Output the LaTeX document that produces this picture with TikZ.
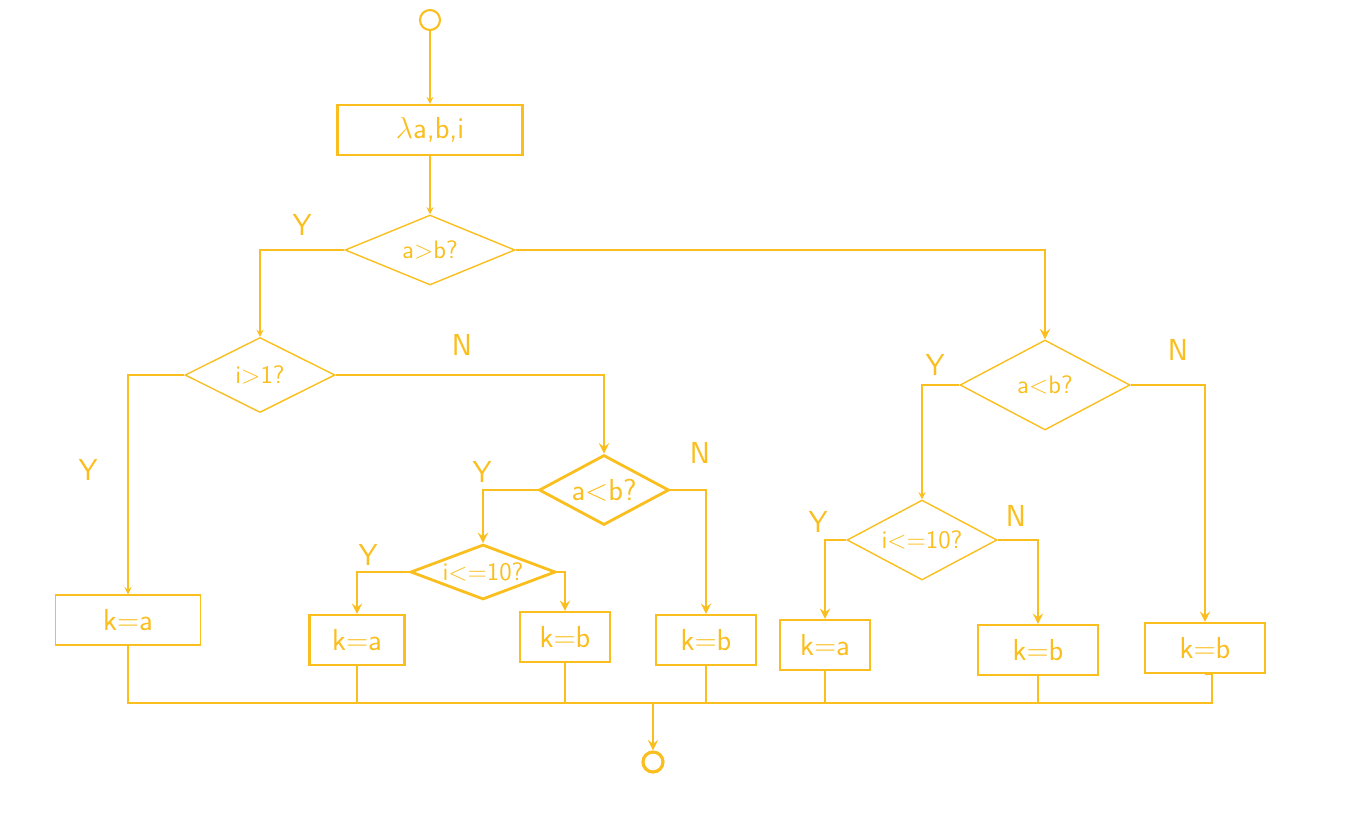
\documentclass[tikz,border=0pt]{standalone}
\usepackage{tikz}
\usetikzlibrary{shapes.geometric, positioning}
\definecolor{marker}{RGB}{250,190,30}

\begin{document}
\begin{tikzpicture}[x=0.02cm, y=-0.02cm, line width=1.2pt, draw=marker, >=stealth,
    every node/.style={text=marker, font=\sffamily}]
    % Setup the styles for the shapes
    \tikzset{box style/.style={draw=marker, rectangle, minimum height=1cm, font=\sffamily\LARGE},
             test style/.style={draw=marker, diamond, aspect=2.2, inner sep=0pt,
                                line width=.8pt, font=\sffamily\Large},
             flag style/.style={font=\sffamily\LARGE},
             term style/.style={draw=marker, circle, minimum size=.4cm, inner sep=0pt}}
    \useasboundingbox (0,0) rectangle (1357,816);

    % Draw the start and the input
    \node[term style] at (430,20)  (start) {};
    \node[box style, minimum width=3.7cm] at (430,130) (input) {$\lambda$a,b,i};

    % Draw the tests
    \node[test style, minimum width=3.4cm, minimum height=1.4cm] at (430,250) (ab)    {a>b?};
    \node[test style, minimum width=3cm, minimum height=1.5cm]   at (260,375) (i1)    {i>1?};
    \node[test style, minimum width=2.6cm, minimum height=1.4cm, line width=1.6pt,
          font=\sffamily\LARGE] at (604,490) (alb) {a<b?};
    \node[test style, minimum width=2.9cm, minimum height=1.1cm, line width=1.6pt,
          aspect=2.6] at (483,572) (ile) {i<=10?};
    \node[test style, minimum width=3.4cm, minimum height=1.8cm] at (1045,385) (alb2) {a<b?};
    \node[test style, minimum width=3cm, minimum height=1.6cm]   at (922,540)  (ile2) {i<=10?};

    % Draw the assignments
    \node[box style, minimum width=2.9cm, line width=.8pt] at (128,620) (ka1) {k=a};
    \node[box style, minimum width=1.9cm] at (357,640)  (ka2) {k=a};
    \node[box style, minimum width=1.8cm] at (565,637)  (kb1) {k=b};
    \node[box style, minimum width=2cm]   at (706,640)  (kb2) {k=b};
    \node[box style, minimum width=1.8cm] at (825,645)  (ka3) {k=a};
    \node[box style, minimum width=2.4cm] at (1038,650) (kb3) {k=b};
    \node[box style, minimum width=2.4cm] at (1205,648) (kb4) {k=b};

    % Draw the end and the collecting line
    \node[term style, line width=1.8pt] at (653,762) (stop) {};
    \coordinate (busleft)  at (160,703);
    \coordinate (busright) at (1212,703);
    \coordinate (busmid)   at (653,703);

    % The branch labels
    \node[flag style] at (302,225)  {Y};
    \node[flag style] at (88,470)   {Y};
    \node[flag style] at (462,345)  {N};
    \node[flag style] at (482,472)  {Y};
    \node[flag style] at (700,453)  {N};
    \node[flag style] at (368,555)  {Y};
    \node[flag style] at (935,365)  {Y};
    \node[flag style] at (1178,350) {N};
    \node[flag style] at (818,522)  {Y};
    \node[flag style] at (1016,516) {N};

    % Connect the shapes
    \draw[->, line width=.8pt] (start) -- (input);
    \draw[->, line width=.8pt] (input) -- (ab);
    \draw[->, line width=.8pt] (ab.west) -| (i1.north);
    \draw[->, line width=.8pt] (i1.west) -| (ka1.north);
    \draw[->, line width=1.6pt] (i1.east) -| (alb.north);
    \draw[->, line width=1.6pt] (alb.east) -| (kb2.north);
    \draw[->, line width=1.6pt] (alb.west) -| (ile.north);
    \draw[->, line width=1.6pt] (ile.west) -| (ka2.north);
    \draw[->, line width=1.6pt] (ile.east) -| (kb1.north);
    \draw[->, line width=1.6pt] (ab.east) -| (alb2.north);
    \draw[->, line width=.8pt] (alb2.west) -| (ile2.north);
    \draw[->, line width=1.6pt] (alb2.east) -| (kb4.north);
    \draw[->, line width=1.6pt] (ile2.west) -| (ka3.north);
    \draw[->, line width=1.6pt] (ile2.east) -| (kb3.north);

    % Gather the assignments
    \draw[line width=1.6pt] (ka1.south) |- (busleft) -- (busright) |- (kb4.south);
    \draw[line width=1.6pt] (ka2.south) -- (ka2.south |- busleft);
    \draw[line width=1.6pt] (kb1.south) -- (kb1.south |- busleft);
    \draw[line width=1.6pt] (kb2.south) -- (kb2.south |- busleft);
    \draw[line width=1.6pt] (ka3.south) -- (ka3.south |- busleft);
    \draw[line width=1.6pt] (kb3.south) -- (kb3.south |- busleft);
    \draw[->, line width=1.6pt] (busmid) -- (stop);
\end{tikzpicture}
\end{document}
